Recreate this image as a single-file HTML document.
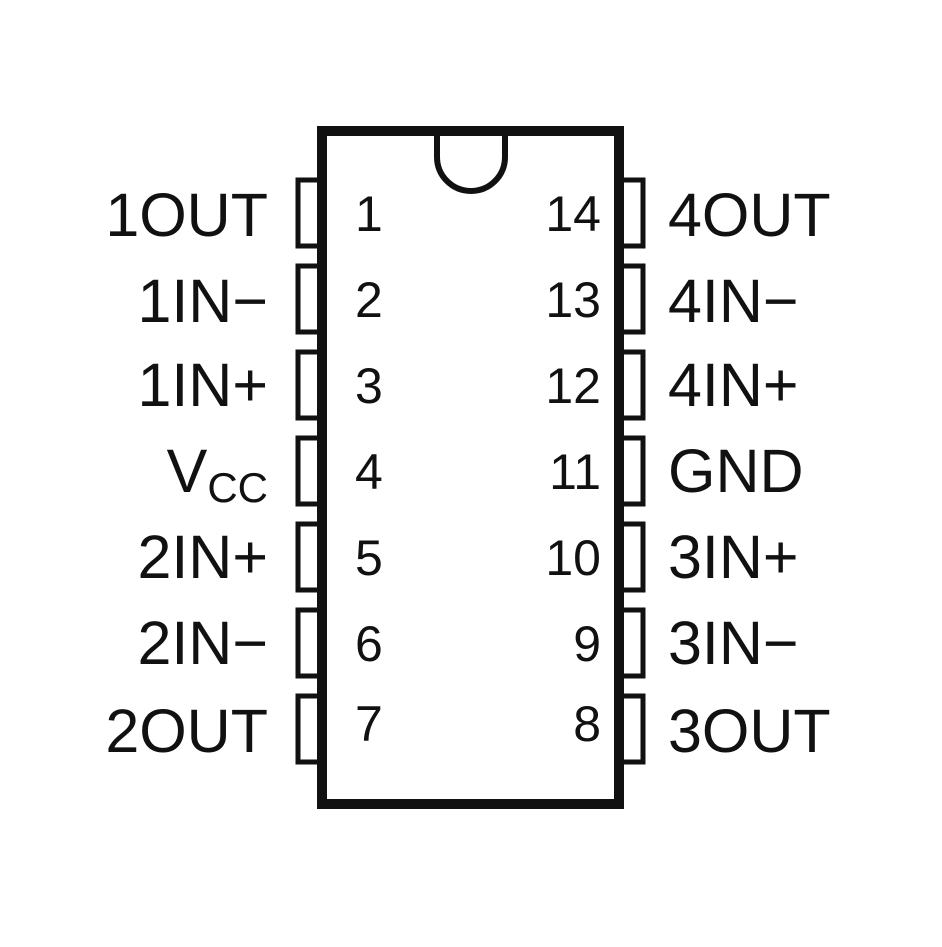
<!DOCTYPE html>
<html><head><style>
body{margin:0;background:#fff}
</style></head><body>
<svg width="942" height="942" viewBox="0 0 942 942" xmlns="http://www.w3.org/2000/svg" font-family="Liberation Sans, Arial, sans-serif" fill="#111">
<rect x="0" y="0" width="942" height="942" fill="#fff"/>
<g fill="none" stroke="#111" stroke-width="5">
<rect x="298" y="180" width="24" height="66"/><rect x="298" y="266" width="24" height="66"/><rect x="298" y="352" width="24" height="66"/><rect x="298" y="438" width="24" height="66"/><rect x="298" y="524" width="24" height="66"/><rect x="298" y="610" width="24" height="66"/><rect x="298" y="696" width="24" height="66"/>
<rect x="619" y="180" width="24" height="66"/><rect x="619" y="266" width="24" height="66"/><rect x="619" y="352" width="24" height="66"/><rect x="619" y="438" width="24" height="66"/><rect x="619" y="524" width="24" height="66"/><rect x="619" y="610" width="24" height="66"/><rect x="619" y="696" width="24" height="66"/>
</g>
<rect x="322" y="131" width="297" height="673" fill="#fff" stroke="#111" stroke-width="10"/>
<path d="M437 135 V157 A34 34 0 0 0 505 157 V135" fill="none" stroke="#111" stroke-width="6"/>
<g font-size="61" text-anchor="end">
<text x="268" y="236">1OUT</text>
<text x="268" y="322">1IN−</text>
<text x="268" y="406">1IN+</text>
<text x="268" y="492">V<tspan font-size="42" dy="10">CC</tspan></text>
<text x="268" y="578">2IN+</text>
<text x="268" y="664">2IN−</text>
<text x="268" y="752">2OUT</text>
</g>
<g font-size="61">
<text x="668" y="236">4OUT</text>
<text x="668" y="322">4IN−</text>
<text x="668" y="406">4IN+</text>
<text x="668" y="492">GND</text>
<text x="668" y="578">3IN+</text>
<text x="668" y="664">3IN−</text>
<text x="668" y="752">3OUT</text>
</g>
<g font-size="50">
<text x="355" y="231">1</text><text x="355" y="317">2</text><text x="355" y="403">3</text><text x="355" y="489">4</text><text x="355" y="575">5</text><text x="355" y="661">6</text><text x="355" y="741">7</text>
</g>
<g font-size="50" text-anchor="end">
<text x="601" y="231">14</text><text x="601" y="317">13</text><text x="601" y="403">12</text><text x="601" y="489">11</text><text x="601" y="575">10</text><text x="601" y="661">9</text><text x="601" y="741">8</text>
</g>
</svg>
</body></html>
